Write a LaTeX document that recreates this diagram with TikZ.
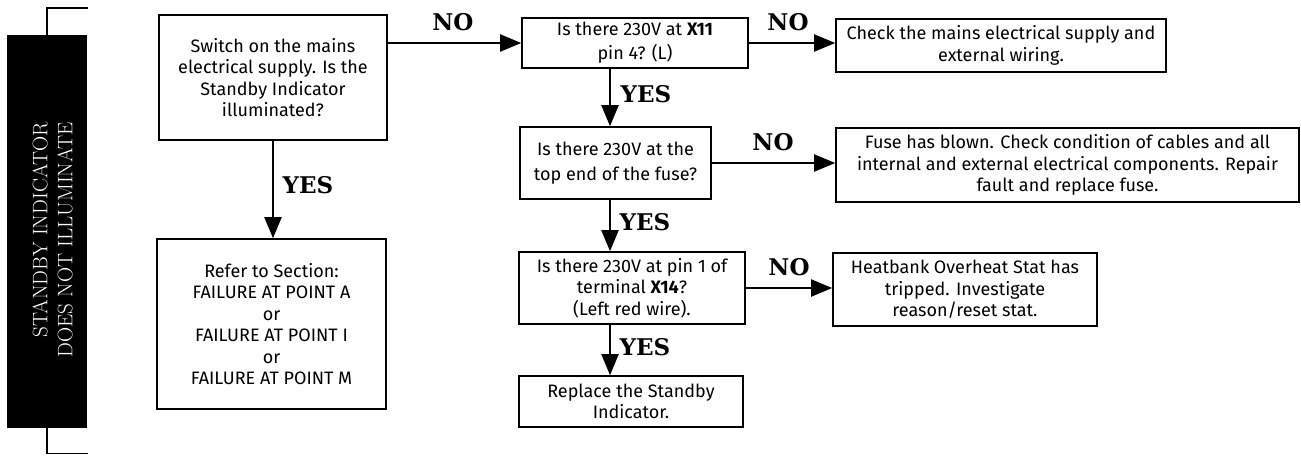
\documentclass[tikz,border=0pt]{standalone}
\usepackage{fontspec}
\newfontfamily\bodyfont{Fira Sans}
\newfontfamily\yesfont{DejaVu Serif}
\usetikzlibrary{arrows.meta}
\tikzset{
  box/.style={draw, line width=1.6pt, rectangle, inner sep=0pt, align=center,
    font=\bodyfont\fontsize{18}{21.5}\selectfont},
  arr/.style={line width=2pt, -{Triangle[length=21pt,width=17pt]}},
  lab/.style={font=\yesfont\bfseries\fontsize{23}{23}\selectfont, inner sep=0pt},
  bracket/.style={line width=1.6pt},
}
\begin{document}
\begin{tikzpicture}[x=1pt,y=-1pt]
\useasboundingbox (0,0) rectangle (1301,456);
% title bar
\node[fill=black, minimum width=80, minimum height=393, inner sep=0pt, anchor=north west] (bar) at (7,35) {};
\node[text=white, rotate=90, align=right, inner sep=0pt, font=\fontsize{21}{25}\selectfont] (title) at (52.5,240) {STANDBY INDICATOR\\DOES NOT ILLUMINATE};
\draw[bracket] (bar.north) -- ++(0,-27) -- ++(41,0);
\draw[bracket] (bar.south) -- ++(0,25) -- ++(41,0);
% boxes
\node[box, minimum width=228, minimum height=125] (b1) at (273,77.5) {Switch on the mains\\electrical supply. Is the\\Standby Indicator\\illuminated?};
\node[box, minimum width=229, minimum height=170] (b2) at (271.5,324) {Refer to Section:\\FAILURE AT POINT A\\or\\FAILURE AT POINT I\\or\\FAILURE AT POINT M};
\node[box, minimum width=226, minimum height=50, font=\bodyfont\fontsize{18}{24}\selectfont] (q1) at (635,43) {Is there 230V at \textbf{X11}\\pin 4? (L)};
\node[box, minimum width=330, minimum height=53] (r1) at (1001,45.5) {Check the mains electrical supply and\\external wiring.};
\node[box, minimum width=191, minimum height=72, font=\bodyfont\fontsize{18}{25}\selectfont] (q2) at (615.5,163) {Is there 230V at the\\top end of the fuse?};
\node[box, minimum width=463, minimum height=74] (r2) at (1067.5,165) {Fuse has blown. Check condition of cables and all\\internal and external electrical components. Repair\\fault and replace fuse.};
\node[box, minimum width=226, minimum height=72] (q3) at (632,288) {Is there 230V at pin 1 of\\terminal \textbf{X14}?\\(Left red wire).};
\node[box, minimum width=264, minimum height=73] (r3) at (965,289.5) {Heatbank Overheat Stat has\\tripped. Investigate\\reason/reset stat.};
\node[box, minimum width=224, minimum height=51, font=\bodyfont\fontsize{18}{20.5}\selectfont] (q4) at (631,401.5) {Replace the Standby\\Indicator.};
% connectors
\coordinate (vx) at (610,0);
\draw[arr] (b1.east |- q1.west) -- (q1.west);
\draw[arr] (q1.east) -- (q1.east -| r1.west);
\draw[arr] (b1.south) -- (b1.south |- b2.north);
\draw[arr] (vx |- q1.south) -- (vx |- q2.north);
\draw[arr] (q2.east) -- (q2.east -| r2.west);
\draw[arr] (vx |- q2.south) -- (vx |- q3.north);
\draw[arr] (q3.east) -- (q3.east -| r3.west);
\draw[arr] (vx |- q3.south) -- (vx |- q4.north);
% labels
\node[lab] (n1) at (453,22) {NO};
\node[lab] (n2) at (788,22) {NO};
\node[lab] (n3) at (773,142) {NO};
\node[lab] (n4) at (789,267) {NO};
\node[lab] (y1) at (308,185) {YES};
\node[lab] (y2) at (646,94) {YES};
\node[lab] (y3) at (645,222) {YES};
\node[lab] (y4) at (645,347) {YES};
\end{tikzpicture}
\end{document}
